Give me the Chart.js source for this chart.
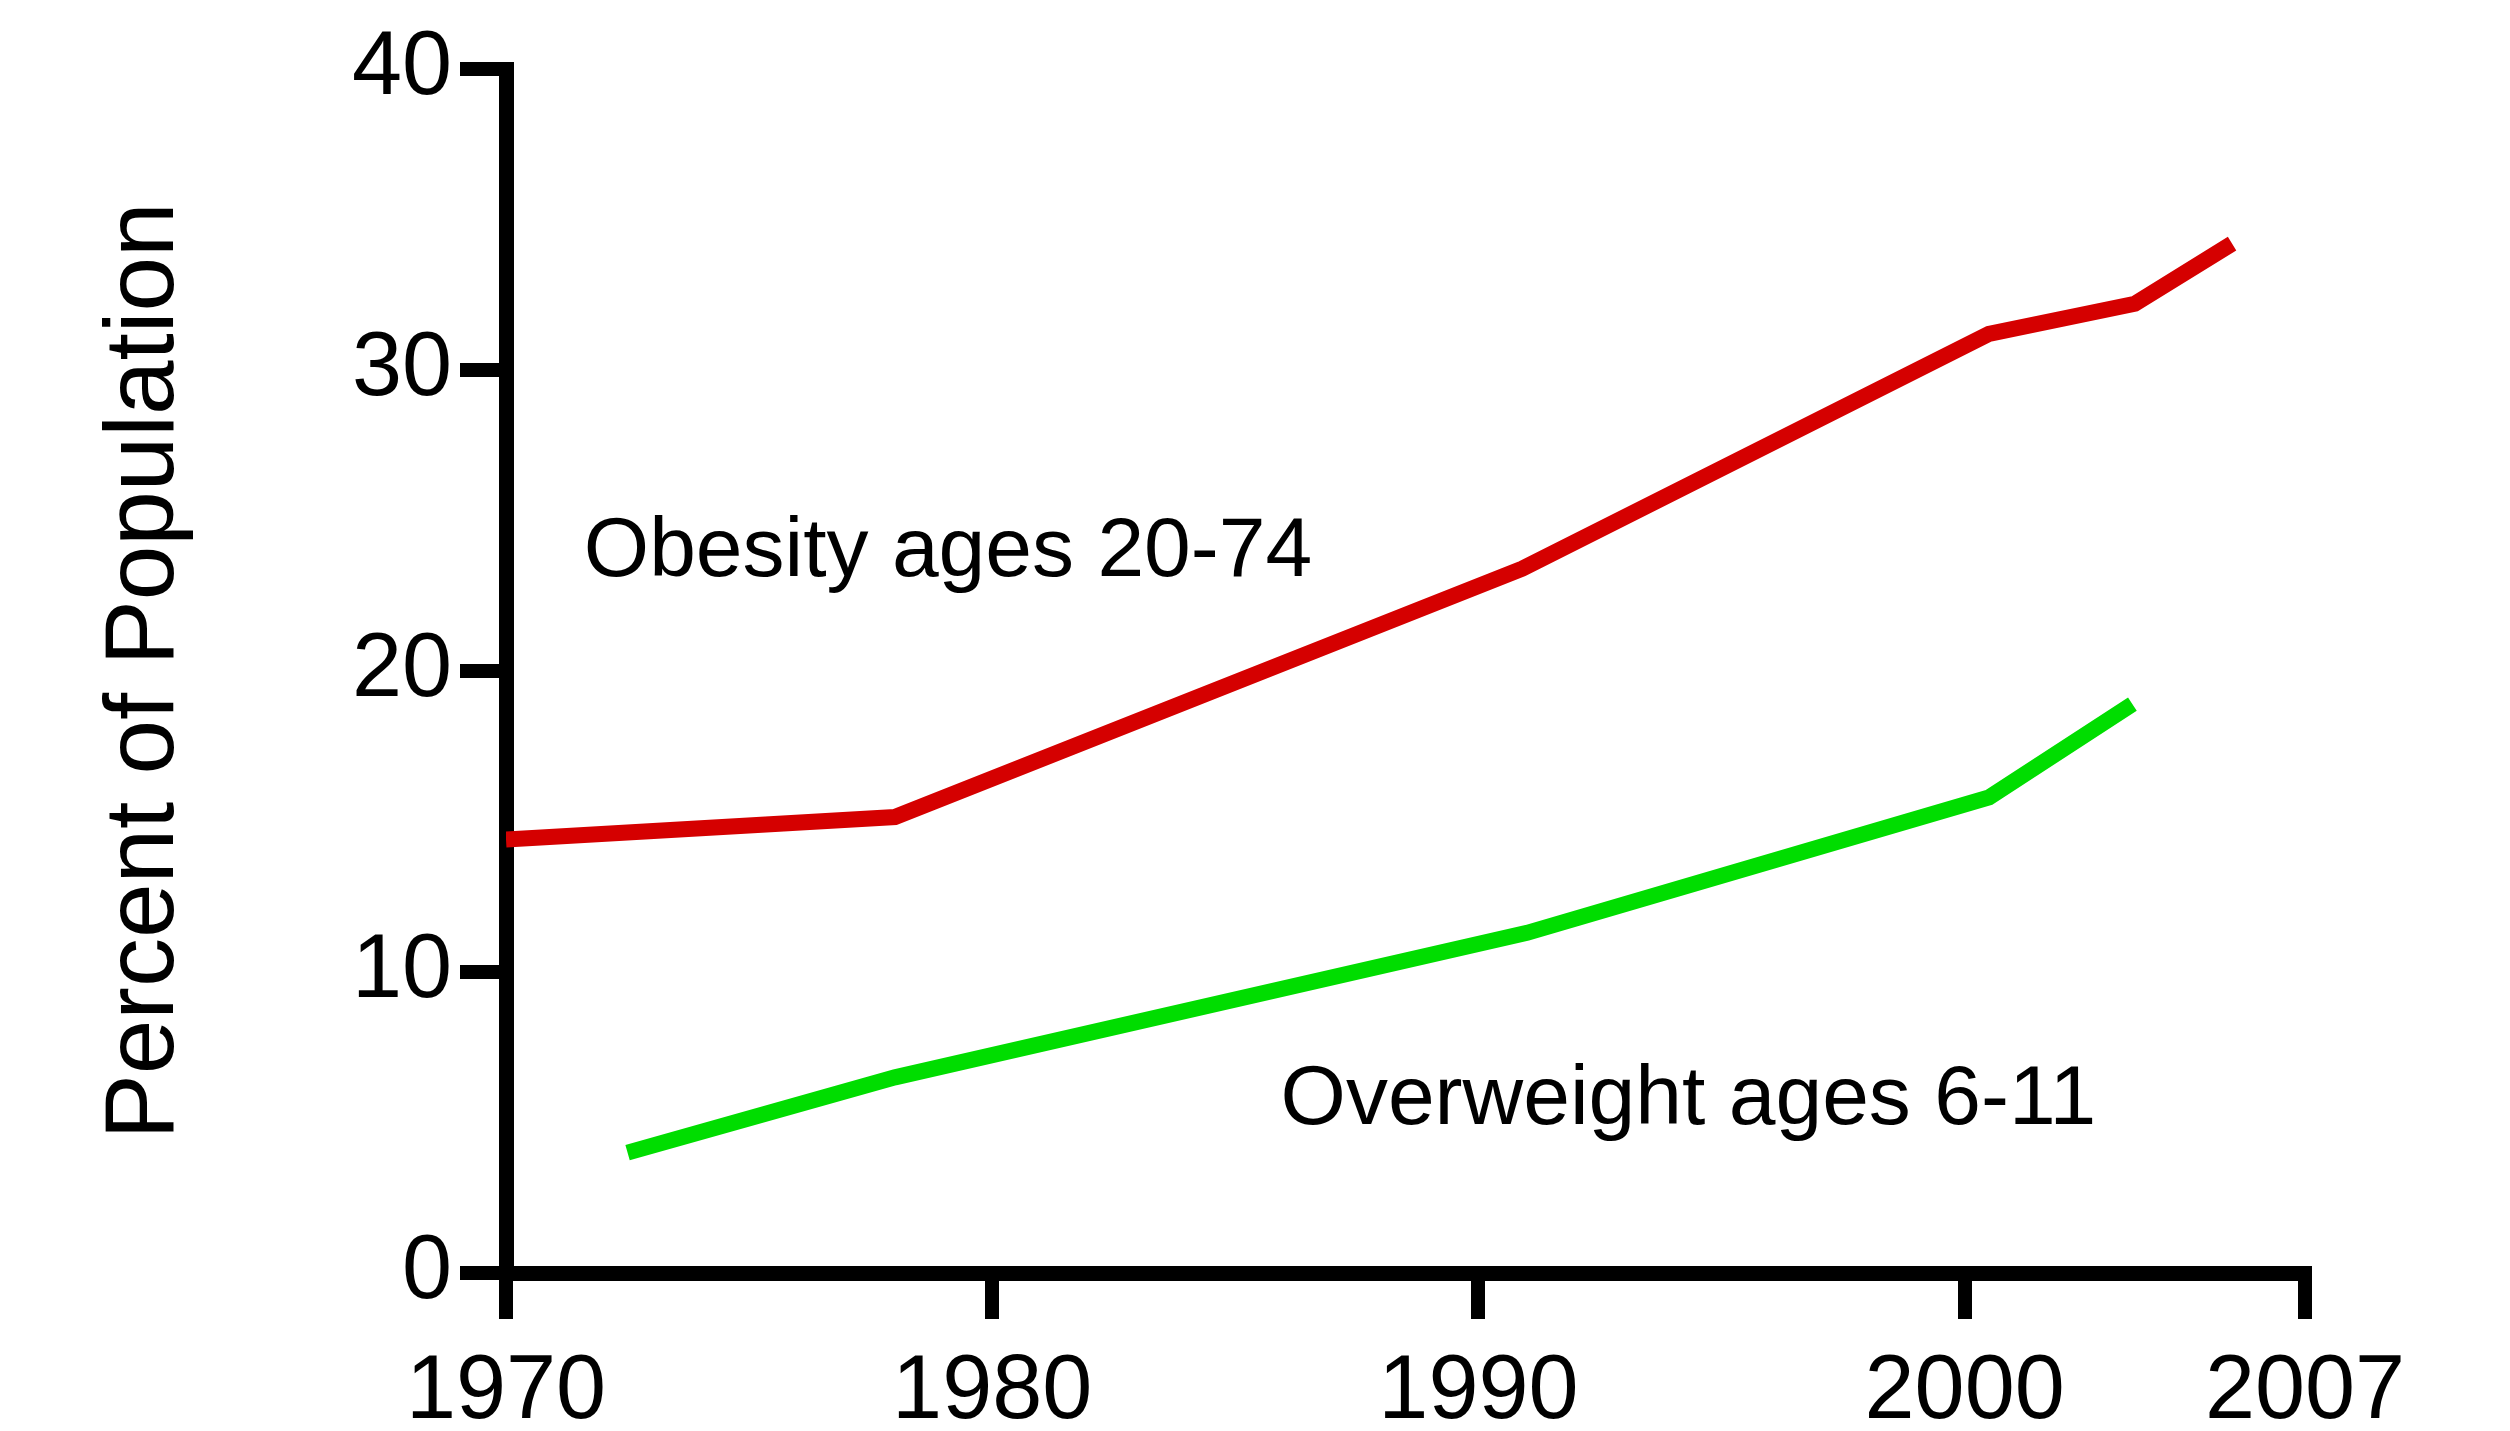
<!DOCTYPE html>
<html>
<head>
<meta charset="utf-8">
<script src="https://cdn.jsdelivr.net/npm/chart.js@4.4.1/dist/chart.umd.min.js"></script>
<style>
  html, body { margin: 0; padding: 0; background: #fff; }
  #wrap { width: 2510px; height: 1431px; }
</style>
</head>
<body>
<div id="wrap"><canvas id="trend" width="2510" height="1431"></canvas></div>
<script>
// values
const obesityYears = [1970, 1978, 1990.9, 2000.5, 2003.5, 2005.5];
const obesityPct = [14.4, 15.15, 23.4, 31.2, 32.2, 34.2];
const overweightYears = [1972.5, 1978, 1991, 2000.5, 2003.45];
const overweightPct = [4.0, 6.5, 11.3, 15.8, 18.9];
const yearTicks = [1970, 1980, 1990, 2000, 2007];
const pctTicks = [0, 10, 20, 30, 40];
const seriesNames = ["Obesity ages 20-74", "Overweight ages 6-11"];

const FONT = '"Liberation Sans", Arial, sans-serif';

function toPoints(xs, ys) {
    return xs.map((x, i) => ({x: x, y: ys[i]}));
}

// text labels next to the lines, anchored in data units
const seriesLabels = {
    id: 'seriesLabels',
    afterDatasetsDraw(chart) {
        const {ctx, scales: {x, y}} = chart;
        const anchors = [[1971.6, 23.15], [1985.93, 4.95]];
        ctx.save();
        ctx.font = '84px ' + FONT;
        ctx.fillStyle = '#000';
        ctx.textBaseline = 'alphabetic';
        seriesNames.forEach((name, i) => {
            ctx.fillText(name, x.getPixelForValue(anchors[i][0]), y.getPixelForValue(anchors[i][1]));
        });
        ctx.restore();
    }
};

var ctx = document.getElementById("trend").getContext("2d");
var chart = new Chart(ctx, {
    type: "line",
    data: {
        datasets: [{
            label: seriesNames[0],
            data: toPoints(obesityYears, obesityPct),
            borderColor: "#d50000",
            borderWidth: 16,
            pointRadius: 0,
            tension: 0
        }, {
            label: seriesNames[1],
            data: toPoints(overweightYears, overweightPct),
            borderColor: "#00dd00",
            borderWidth: 16,
            pointRadius: 0,
            tension: 0
        }]
    },
    options: {
        responsive: false,
        animation: false,
        devicePixelRatio: 1,
        layout: { padding: { top: 69, right: 205, left: 0, bottom: 0 } },
        plugins: {
            legend: { display: false },
            tooltip: { enabled: false }
        },
        scales: {
            x: {
                type: "linear",
                min: 1970,
                max: 2007,
                afterBuildTicks: (s) => { s.ticks = yearTicks.map(v => ({value: v})); },
                afterFit: (s) => { s.height = 158; },
                ticks: {
                    color: "#000",
                    font: { family: FONT, size: 90 },
                    padding: 20,
                    autoSkip: false,
                    maxRotation: 0,
                    callback: (v) => String(v)
                },
                grid: { drawOnChartArea: false, tickLength: 46, lineWidth: 14, color: "#000" },
                border: { color: "#000", width: 15 }
            },
            y: {
                min: 0,
                max: 40,
                afterBuildTicks: (s) => { s.ticks = pctTicks.map(v => ({value: v})); },
                afterFit: (s) => { s.width = 506; },
                ticks: {
                    color: "#000",
                    font: { family: FONT, size: 90 },
                    padding: 8,
                    callback: (v) => String(v)
                },
                title: {
                    display: true,
                    text: "Percent of Population",
                    color: "#000",
                    font: { family: FONT, size: 98 },
                    padding: { top: 87, bottom: 0 }
                },
                grid: { drawOnChartArea: false, tickLength: 46, lineWidth: 14, color: "#000" },
                border: { color: "#000", width: 15 }
            }
        }
    },
    plugins: [seriesLabels]
});
</script>
</body>
</html>
